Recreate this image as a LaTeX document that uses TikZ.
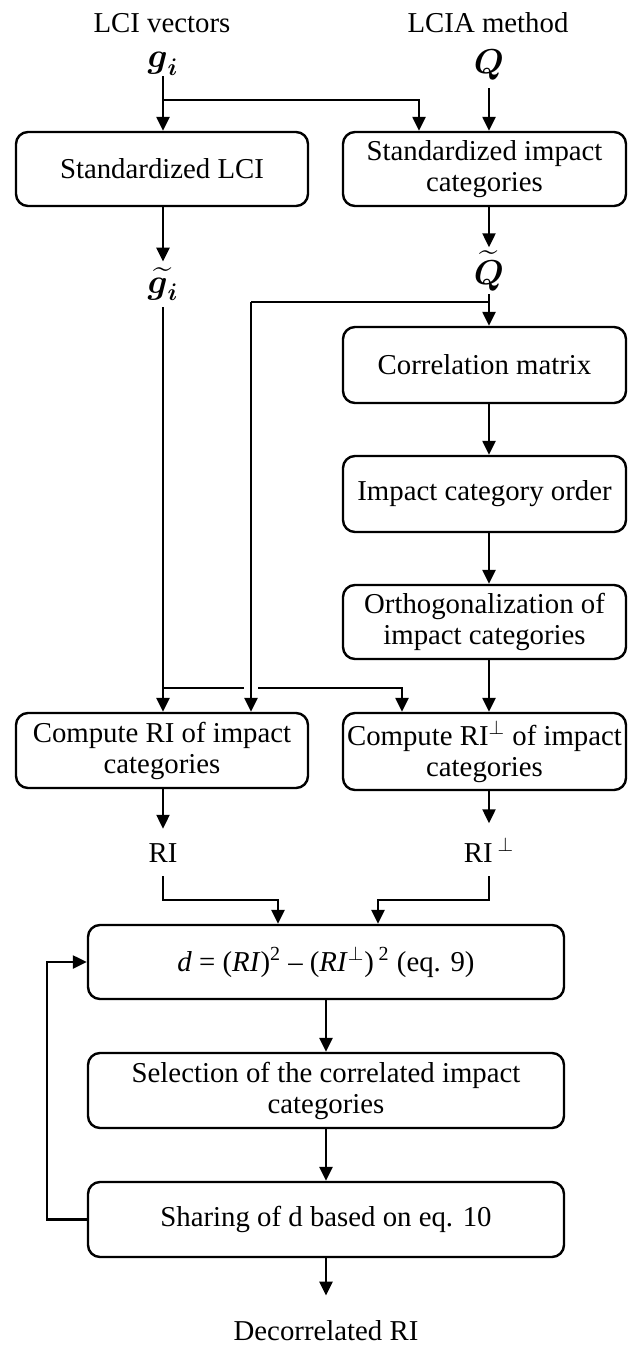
\documentclass[tikz,border=0pt]{standalone}
\usepackage{fontspec}
\setmainfont{Liberation Serif}
\usepackage{amsmath,amssymb}
\usetikzlibrary{arrows.meta}
\newcommand{\fsz}{\fontsize{14.4}{15.5}\selectfont}
\newcommand{\msz}{\fontsize{16.5}{18}\selectfont}
\begin{document}
\begin{tikzpicture}[x=0.5pt,y=-0.5pt,
  box/.style={draw, line width=1.2pt, rounded corners=6pt, align=center, inner sep=0pt, font=\fsz},
  lbl/.style={inner sep=0pt, font=\fsz},
  mlbl/.style={inner sep=0pt, font=\msz},
  arr/.style={line width=1.2pt, -{Triangle[length=7pt,width=6.5pt]}},
  ln/.style={line width=1.2pt}]
\fill[white] (0,0) rectangle (627,1345);
\useasboundingbox (0,0) rectangle (627,1345);
% column coordinates
\coordinate (L) at (163,0);
\coordinate (R) at (489,0);
\coordinate (M) at (326,0);
% titles and symbols
\node[lbl] (lci) at (162,23) {LCI vectors};
\node[lbl] (lcia) at (488,23) {LCIA method};
\node[mlbl, anchor=south] (g) at (163,76) {$\boldsymbol{g}_{\boldsymbol{i}}$};
\node[mlbl, anchor=base, inner ysep=4pt] (Q) at (489,73) {$\boldsymbol{Q}$};
% boxes
\node[box, minimum width=146pt, minimum height=37pt] (b1) at (162,169) {Standardized LCI};
\node[box, minimum width=141.5pt, minimum height=37pt] (b2) at (484.5,169) {Standardized impact\\categories};
\node[mlbl, anchor=base, inner ysep=3pt] (gt) at (163,293) {$\widetilde{\boldsymbol{g}_{\boldsymbol{i}}}$};
\node[mlbl, anchor=base, inner ysep=1.5pt] (Qt) at (489,284) {$\widetilde{\boldsymbol{Q}}$};
\node[box, minimum width=141.5pt, minimum height=38pt] (corr) at (484.5,365) {Correlation matrix};
\node[box, minimum width=141.5pt, minimum height=38pt] (order) at (484.5,494) {Impact category order};
\node[box, minimum width=141.5pt, minimum height=37pt] (orth) at (484.5,622) {Orthogonalization of\\impact categories};
\node[box, minimum width=146pt, minimum height=37.5pt] (cri) at (162,750.5) {Compute RI of impact\\categories};
\node[box, minimum width=141.5pt, minimum height=38.5pt] (crip) at (484.5,751.5) {Compute RI$^{\perp}$ of impact\\categories};
\node[lbl, anchor=base, inner ysep=7pt] (ri) at (163,862) {RI};
\node[lbl, anchor=base, inner ysep=7pt] (rip) at (489,862) {RI\,$^{\perp}$};
\node[box, minimum width=238pt, minimum height=37pt] (d) at (326,962) {\textit{d} = (\textit{RI})\textsuperscript{2} -- (\textit{RI}$^{\perp}$)\,\textsuperscript{2} (eq. 9)};
\node[box, minimum width=238pt, minimum height=37.5pt] (sel) at (326,1090.5) {Selection of the correlated impact\\categories};
\node[box, minimum width=238pt, minimum height=37.5pt] (share) at (326,1219.5) {Sharing of d based on eq. 10};
\node[lbl, anchor=base, inner ysep=12pt] (dec) at (326,1340) {Decorrelated RI};
% junction coordinates
\coordinate (j1) at (163,100);
\coordinate (t1) at (419,0);
\coordinate (j2) at (489,302);
\coordinate (t2) at (251,302);
\coordinate (j3) at (163,688);
\coordinate (gapL) at (244,688);
\coordinate (gapR) at (258,688);
\coordinate (t3) at (402,0);
\coordinate (k1) at (278,900);
\coordinate (k2) at (378,900);
\coordinate (fb) at (47,0);
% connectors
\draw[arr] (g.south) -- (g.south |- b1.north);
\draw[arr] (j1) -| (t1 |- b2.north);
\draw[arr] (Q.south) -- (Q.south |- b2.north);
\draw[arr] (b1.south -| L) -- (gt.north);
\draw[arr] (b2.south -| R) -- (Qt.north);
\draw[arr] (Qt.south) -- (Qt.south |- corr.north);
\draw[ln] (j2) -- (t2);
\draw[arr] (t2) -- (t2 |- cri.north);
\draw[arr] (gt.south) -- (gt.south |- cri.north);
\draw[arr] (corr.south -| R) -- (order.north -| R);
\draw[arr] (order.south -| R) -- (orth.north -| R);
\draw[arr] (orth.south -| R) -- (crip.north -| R);
\draw[ln] (j3) -- (gapL);
\draw[arr] (gapR) -| (t3 |- crip.north);
\draw[arr] (cri.south -| L) -- (ri.north);
\draw[arr] (crip.south -| R) -- (rip.north);
\draw[arr] (ri.south) |- (k1) -- (k1 |- d.north);
\draw[arr] (rip.south) |- (k2) -- (k2 |- d.north);
\draw[arr] (d.south -| M) -- (sel.north -| M);
\draw[arr] (sel.south -| M) -- (share.north -| M);
\draw[arr] (share.south -| M) -- (dec.north);
\draw[arr] (share.west) -- (share.west -| fb) |- (d.west);
\end{tikzpicture}
\end{document}
